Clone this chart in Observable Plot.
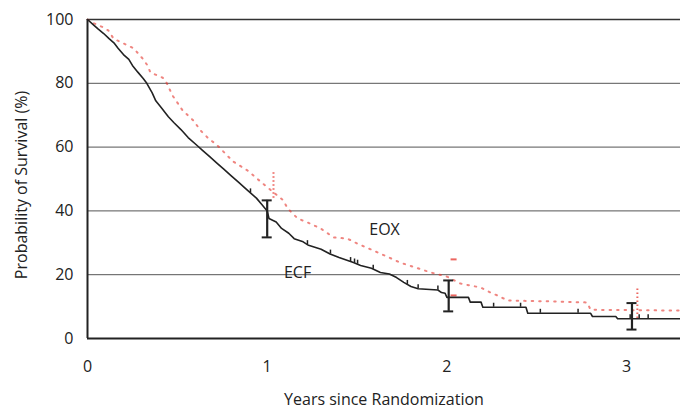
<!DOCTYPE html>
<html>
<head>
<meta charset="utf-8">
<script src="https://cdn.jsdelivr.net/npm/d3@7"></script>
<script src="https://cdn.jsdelivr.net/npm/@observablehq/plot@0.6"></script>
<style>
  html, body { margin: 0; padding: 0; background: #fff; }
  #chart svg { display: block; }
</style>
</head>
<body>
<div id="chart"></div>
<script>
// ECF Kaplan-Meier curve (years, % surviving);
// flat stretches are given by their start and end points
const ecfTime = [0, 0.03, 0.06, 0.09, 0.12, 0.15, 0.17, 0.20, 0.23, 0.25, 0.28, 0.31, 0.33, 0.36, 0.38, 0.41, 0.45, 0.48, 0.52, 0.56, 0.61, 0.64, 0.68, 0.72, 0.76, 0.80, 0.84, 0.88, 0.91, 0.94, 0.97, 1.00, 1.01, 1.05, 1.08, 1.12, 1.15, 1.20, 1.23, 1.30, 1.35, 1.40, 1.48, 1.52, 1.58, 1.63, 1.68, 1.72, 1.76, 1.80, 1.84, 1.95, 1.97, 1.99, 2.00, 2.12, 2.13, 2.19, 2.20, 2.44, 2.45, 2.80, 2.81, 2.94, 2.95, 3.30];
const ecfSurv = [100, 98.5, 97, 95.6, 94, 92.5, 91, 89, 87.5, 85.6, 83.5, 81.5, 80, 77, 74.5, 72.4, 69.5, 67.7, 65.5, 63, 60.5, 59, 57, 55, 53, 51, 49, 47, 45.5, 44, 42, 40, 37.6, 36.5, 34.5, 33, 31.3, 30.3, 29.2, 28, 26.5, 25.4, 23.8, 22.9, 22, 20.7, 20.2, 19.1, 17.6, 16.3, 15.6, 15.2, 14.4, 14.2, 12.9, 12.9, 11.4, 11.4, 9.8, 9.8, 7.9, 7.9, 6.9, 6.9, 6.2, 6.2];
// ECF censoring marks (years)
const ecfCensor = [0.907, 1.224, 1.352, 1.464, 1.486, 1.503, 1.59, 1.78, 1.84, 1.95, 2.26, 2.41, 2.52, 2.73, 3.02, 3.07, 3.12];

// EOX Kaplan-Meier curve (years, % surviving)
const eoxTime = [0, 0.028, 0.089, 0.117, 0.145, 0.256, 0.306, 0.334, 0.35, 0.417, 0.434, 0.473, 0.529, 0.59, 0.629, 0.668, 0.723, 0.81, 0.89, 0.963, 1.035, 1.09, 1.113, 1.17, 1.224, 1.297, 1.369, 1.447, 1.50, 1.59, 1.67, 1.74, 1.91, 2.00, 2.076, 2.187, 2.243, 2.28, 2.34, 2.61, 2.78, 2.80, 3.20, 3.30];
const eoxSurv = [100, 99, 97.5, 96.5, 94, 91, 87.8, 85.6, 83.4, 81.8, 80.9, 76.2, 71.5, 68.3, 65.2, 63, 60.5, 55.5, 52.7, 49.2, 45.8, 43.3, 40.8, 37.6, 36.4, 34.5, 31.7, 31.3, 29.8, 27.6, 25.6, 23.8, 20.7, 19.4, 17.2, 16, 14.4, 13.5, 11.9, 11.6, 11.3, 9.0, 8.8, 8.8];

// 95% confidence intervals at 1, 2 and 3 years
const ciYear = [1, 2, 3];
const ecfCiX = [1.00, 2.01, 3.03];
const ecfCiLow = [31.7, 8.5, 2.8];
const ecfCiHigh = [43.3, 18.2, 11.1];
const eoxCiX = [1.035, 2.04, 3.06];
const eoxCiLow = [44, 13.5, 6.3];
const eoxCiHigh = [52, 24.8, 15.5];

// Axis ticks and labels
const xTicks = [0, 1, 2, 3];
const yTicks = [0, 20, 40, 60, 80, 100];
const gridLines = [20, 40, 60, 80];
const seriesLabels = [
  {name: "EOX", t: 1.653, s: 33.9},
  {name: "ECF", t: 1.169, s: 20.6}
];

const ecf = ecfTime.map((t, i) => ({t, s: ecfSurv[i]}));
const eox = eoxTime.map((t, i) => ({t, s: eoxSurv[i]}));
const ecfAt = d3.scaleLinear(ecfTime, ecfSurv);
const censor = ecfCensor.map(t => ({t, s: ecfAt(t)}));
const ecfCi = ciYear.map((y, i) => ({t: ecfCiX[i], lo: ecfCiLow[i], hi: ecfCiHigh[i]}));
const eoxCi = ciYear.map((y, i) => ({year: y, t: eoxCiX[i], lo: eoxCiLow[i], hi: eoxCiHigh[i]}));
const eoxCiEnds = eoxCi.filter(d => d.year === 2).flatMap(d => [{t: d.t, s: d.lo}, {t: d.t, s: d.hi}]);
const eoxCiLines = eoxCi.filter(d => d.year !== 2);

const red = "#e5332b";
const ink = "#222";

const chart = Plot.plot({
  width: 680,
  height: 409,
  marginLeft: 87,
  marginRight: 0,
  marginTop: 19,
  marginBottom: 71,
  style: {fontFamily: "'Open Sans', sans-serif", fontSize: "16px", color: ink, background: "#fff"},
  x: {domain: [0, 3.3]},
  y: {domain: [0, 100]},
  marks: [
    Plot.ruleY(gridLines, {stroke: "#555", strokeWidth: 1}),
    Plot.ruleY([100], {stroke: "#333", strokeWidth: 1.5}),
    // EOX
    Plot.line(eox, {x: "t", y: "s", stroke: red, strokeWidth: 2, strokeOpacity: 0.6, strokeDasharray: "1.5,6"}),
    Plot.ruleX(eoxCiLines, {x: "t", y1: "lo", y2: "hi", stroke: red, strokeWidth: 2, strokeOpacity: 0.75, strokeDasharray: "1.5,2.5"}),
    Plot.ruleY(eoxCiEnds, {y: "s", x1: "t", x2: "t", insetLeft: -3, insetRight: -3, stroke: red, strokeWidth: 2, strokeOpacity: 0.75}),
    // ECF
    Plot.line(ecf, {x: "t", y: "s", stroke: ink, strokeWidth: 1.6}),
    Plot.ruleX(censor, {x: "t", y1: "s", y2: "s", insetTop: -4, stroke: ink, strokeWidth: 1.5}),
    Plot.ruleX(ecfCi, {x: "t", y1: "lo", y2: "hi", stroke: ink, strokeWidth: 2.2}),
    Plot.ruleY(ecfCi, {y: "lo", x1: "t", x2: "t", insetLeft: -5, insetRight: -5, stroke: ink, strokeWidth: 2}),
    Plot.ruleY(ecfCi, {y: "hi", x1: "t", x2: "t", insetLeft: -5, insetRight: -5, stroke: ink, strokeWidth: 2}),
    Plot.text(seriesLabels, {x: "t", y: "s", text: "name", fill: ink, fontSize: 16}),
    // Axes
    Plot.ruleX([0], {stroke: ink, strokeWidth: 2}),
    Plot.ruleY([0], {stroke: ink, strokeWidth: 2}),
    Plot.axisX(xTicks, {tickSize: 0, tickPadding: 22, tickFormat: d => String(d), label: null, fontSize: 16}),
    Plot.axisY(yTicks, {tickSize: 0, tickPadding: 14, tickFormat: d => String(d), label: null, fontSize: 16}),
    Plot.text(["Years since Randomization"], {frameAnchor: "bottom", dy: 66, fontSize: 16, fill: ink}),
    Plot.text(["Probability of Survival (%)"], {frameAnchor: "left", textAnchor: "middle", dx: -66, dy: 6, rotate: -90, fontSize: 16, fill: ink})
  ]
});
document.getElementById("chart").appendChild(chart);
</script>
</body>
</html>
